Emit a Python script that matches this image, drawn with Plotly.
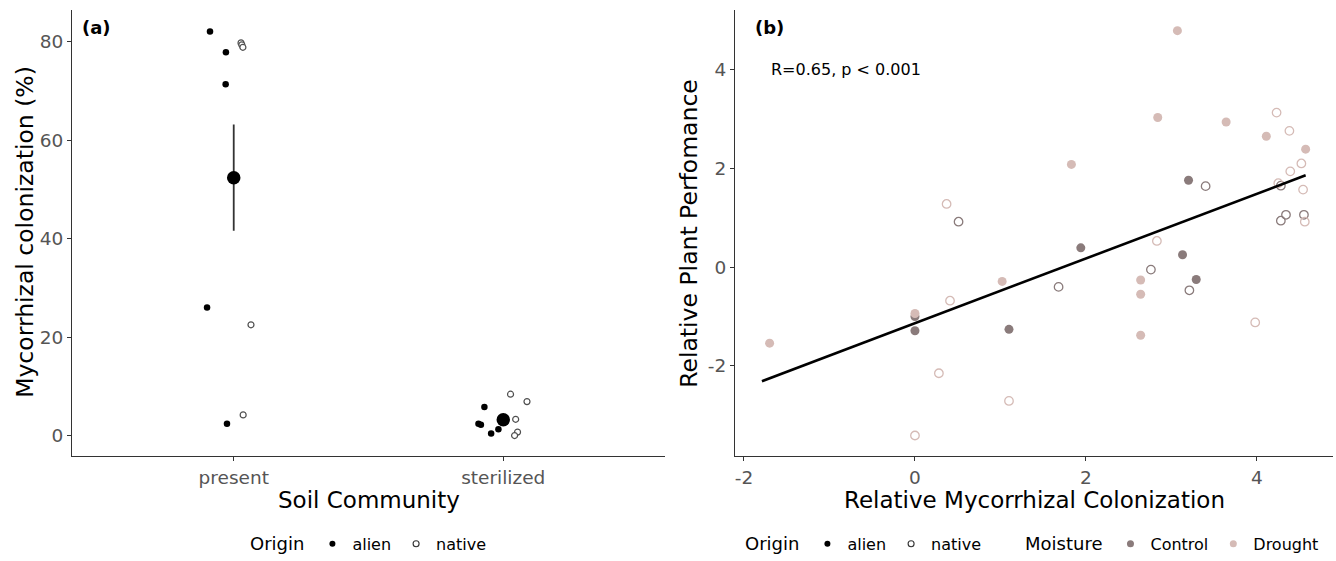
import plotly.graph_objects as go

W, H = 1336, 561

# ---------------- Panel (a) data ----------------
soil_categories = ["present", "sterilized"]

present_alien = [82.1, 77.9, 71.4, 26.0, 2.4]
present_alien_jitter = [-0.088, -0.029, -0.030, -0.099, -0.025]
present_native = [79.8, 79.4, 78.9, 22.5, 4.2]
present_native_jitter = [0.027, 0.030, 0.034, 0.064, 0.035]

sterilized_alien = [5.8, 2.4, 2.2, 1.3, 0.4]
sterilized_alien_jitter = [-0.070, -0.092, -0.083, -0.018, -0.045]
sterilized_native = [8.4, 6.9, 3.3, 0.7, 0.0]
sterilized_native_jitter = [0.027, 0.088, 0.046, 0.053, 0.042]

mean_colonization = [52.4, 3.2]
se_colonization = [10.8, 0.9]

# ---------------- Panel (b) data ----------------
drought_alien_x = [-1.70, 0.00, 1.02, 1.83, 2.64, 2.64, 2.64, 2.84, 3.07, 3.64, 4.11, 4.57]
drought_alien_y = [-1.54, -0.94, -0.29, 2.08, -0.26, -0.55, -1.38, 3.03, 4.79, 2.94, 2.65, 2.39]
control_alien_x = [0.00, 0.00, 1.10, 1.94, 3.13, 3.20, 3.29]
control_alien_y = [-1.00, -1.29, -1.26, 0.39, 0.25, 1.76, -0.25]
control_native_x = [0.51, 1.68, 2.76, 3.21, 3.40, 4.28, 4.34, 4.28, 4.55]
control_native_y = [0.92, -0.40, -0.05, -0.47, 1.64, 1.65, 1.06, 0.94, 1.06]
drought_native_x = [0.37, 0.41, 0.28, 1.10, 0.00, 2.83, 3.98, 4.23, 4.38, 4.52, 4.39, 4.25, 4.54, 4.56]
drought_native_y = [1.28, -0.68, -2.15, -2.71, -3.41, 0.53, -1.12, 3.13, 2.76, 2.10, 1.94, 1.70, 1.57, 0.92]
fit_x = [-1.79, 4.57]
fit_y = [-2.31, 1.86]
cor_label = "R=0.65, p < 0.001"

y_ticks_a = [0, 20, 40, 60, 80]
ticks_b = [-2, 0, 2, 4]
tick_text_b = ["-2", "0", "2", "4"]

# ---------------- styles ----------------
FONT = "DejaVu Sans"
CTRL = "#8a7b7b"
DROUGHT = "#d5bbb6"
OPEN_A = "#505050"
AXIS = "#333333"
TICK = "#555555"
K = 1.0105  # vertical pixel calibration

fig = go.Figure()

# Panel (a) points
for vals, jit, base, filled in [
    (present_alien, present_alien_jitter, 1, True),
    (present_native, present_native_jitter, 1, False),
    (sterilized_alien, sterilized_alien_jitter, 2, True),
    (sterilized_native, sterilized_native_jitter, 2, False),
]:
    fig.add_trace(go.Scatter(
        x=[base + j for j in jit], y=vals, mode="markers",
        xaxis="x", yaxis="y", showlegend=False, hoverinfo="skip",
        marker=dict(size=6.5 if filled else 6,
                    color="black" if filled else "white",
                    symbol="circle",
                    line=dict(width=0 if filled else 1.2, color=OPEN_A)),
    ))

fig.add_trace(go.Scatter(
    x=[1, 2], y=mean_colonization, mode="markers",
    xaxis="x", yaxis="y", showlegend=False, hoverinfo="skip",
    marker=dict(size=13.5, color="black"),
    error_y=dict(type="data", array=se_colonization, visible=True,
                 thickness=1.8, width=0, color=AXIS),
))

# Panel (b) points
fig.add_trace(go.Scatter(x=control_native_x, y=control_native_y, mode="markers",
    xaxis="x2", yaxis="y2", showlegend=False, hoverinfo="skip",
    marker=dict(size=8.5, color="rgba(255,255,255,0)", line=dict(width=1.3, color=CTRL))))
fig.add_trace(go.Scatter(x=drought_native_x, y=drought_native_y, mode="markers",
    xaxis="x2", yaxis="y2", showlegend=False, hoverinfo="skip",
    marker=dict(size=8.5, color="rgba(255,255,255,0)", line=dict(width=1.3, color=DROUGHT))))
fig.add_trace(go.Scatter(x=control_alien_x, y=control_alien_y, mode="markers",
    xaxis="x2", yaxis="y2", showlegend=False, hoverinfo="skip",
    marker=dict(size=9, color=CTRL, line=dict(width=0))))
fig.add_trace(go.Scatter(x=drought_alien_x, y=drought_alien_y, mode="markers",
    xaxis="x2", yaxis="y2", showlegend=False, hoverinfo="skip",
    marker=dict(size=9, color=DROUGHT, line=dict(width=0))))
fig.add_trace(go.Scatter(x=fit_x, y=fit_y, mode="lines",
    xaxis="x2", yaxis="y2", showlegend=False, hoverinfo="skip",
    line=dict(color="black", width=2.6)))

# Legend entries (empty traces)
def legend_entry(name, legend, color, open_=False, size=6):
    fig.add_trace(go.Scatter(
        x=[None], y=[None], mode="markers", name=name, legend=legend,
        xaxis="x", yaxis="y", showlegend=True,
        marker=dict(size=size, color="white" if open_ else color,
                    line=dict(width=1.1 if open_ else 0, color=color)),
    ))

legend_entry("alien", "legend", "black")
legend_entry("native", "legend", "#333333", open_=True)
legend_entry("alien", "legend2", "black")
legend_entry("native", "legend2", "#333333", open_=True)
legend_entry("Control", "legend3", CTRL, size=7)
legend_entry("Drought", "legend3", DROUGHT, size=7)

def px_x(p):
    return p / W

def px_y(p):
    return (H - p * K) / H

ydom = [px_y(460.5), px_y(10)]

axis_common = dict(
    showline=True, linecolor=AXIS, linewidth=1.2, mirror=False,
    ticks="outside", ticklen=4, tickwidth=1, tickcolor=AXIS,
    tickfont=dict(family=FONT, size=18.5, color=TICK),
    showgrid=False, zeroline=False, fixedrange=True,
)

legend_common = dict(
    orientation="h", yanchor="middle", y=px_y(549),
    font=dict(family=FONT, size=16, color="black"),
    bgcolor="rgba(0,0,0,0)", borderwidth=0,
    itemclick=False, itemdoubleclick=False,
)

fig.update_layout(
    width=W, height=H,
    margin=dict(l=0, r=0, t=0, b=0),
    paper_bgcolor="white", plot_bgcolor="white",
    font=dict(family=FONT, color="black"),
    xaxis=dict(domain=[px_x(72), px_x(665)], range=[0.4, 2.6],
               tickvals=[1, 2], ticktext=soil_categories, anchor="y", **axis_common),
    yaxis=dict(domain=ydom, range=[-4.2, 86.5], tickvals=y_ticks_a,
               anchor="x", **axis_common),
    xaxis2=dict(domain=[px_x(735), px_x(1333)], range=[-2.105, 4.89],
                tickvals=ticks_b, ticktext=tick_text_b, anchor="y2", **axis_common),
    yaxis2=dict(domain=ydom, range=[-3.83, 5.21], tickvals=ticks_b, ticktext=tick_text_b,
                anchor="x2", **axis_common),
    legend=dict(x=px_x(370), xanchor="center",
                title=dict(text="Origin", font=dict(family=FONT, size=18, color="black")),
                **legend_common),
    legend2=dict(x=px_x(743), xanchor="left",
                 title=dict(text="Origin", font=dict(family=FONT, size=18, color="black")),
                 **legend_common),
    legend3=dict(x=px_x(1324), xanchor="right",
                 title=dict(text="Moisture", font=dict(family=FONT, size=18, color="black")),
                 **legend_common),
)

annotations = [
    dict(text="<b>(a)</b>", x=px_x(80), y=px_y(28), xanchor="left", yanchor="middle",
         font=dict(family=FONT, size=18, color="black")),
    dict(text="<b>(b)</b>", x=px_x(753), y=px_y(28), xanchor="left", yanchor="middle",
         font=dict(family=FONT, size=18, color="black")),
    dict(text="Mycorrhizal colonization (%)", x=px_x(25), y=px_y(234), textangle=-90,
         xanchor="center", yanchor="middle", font=dict(family=FONT, size=23.5, color="black")),
    dict(text="Soil Community", x=px_x(369), y=px_y(505), xanchor="center", yanchor="middle",
         font=dict(family=FONT, size=23, color="black")),
    dict(text="Relative Plant Perfomance", x=px_x(689), y=px_y(236), textangle=-90,
         xanchor="center", yanchor="middle", font=dict(family=FONT, size=23.5, color="black")),
    dict(text="Relative Mycorrhizal Colonization", x=px_x(1034), y=px_y(505),
         xanchor="center", yanchor="middle", font=dict(family=FONT, size=23, color="black")),
]
for a in annotations:
    a.update(xref="paper", yref="paper", showarrow=False)
annotations.append(dict(text=cor_label, x=-1.71, y=4.0, xref="x2", yref="y2",
                        xanchor="left", yanchor="middle", showarrow=False,
                        font=dict(family=FONT, size=16, color="black")))
fig.update_layout(annotations=annotations)

fig.write_html(
    "out.html",
    config={"displayModeBar": False},
    post_script="document.body.style.margin='0px';document.body.style.overflow='hidden';",
)
